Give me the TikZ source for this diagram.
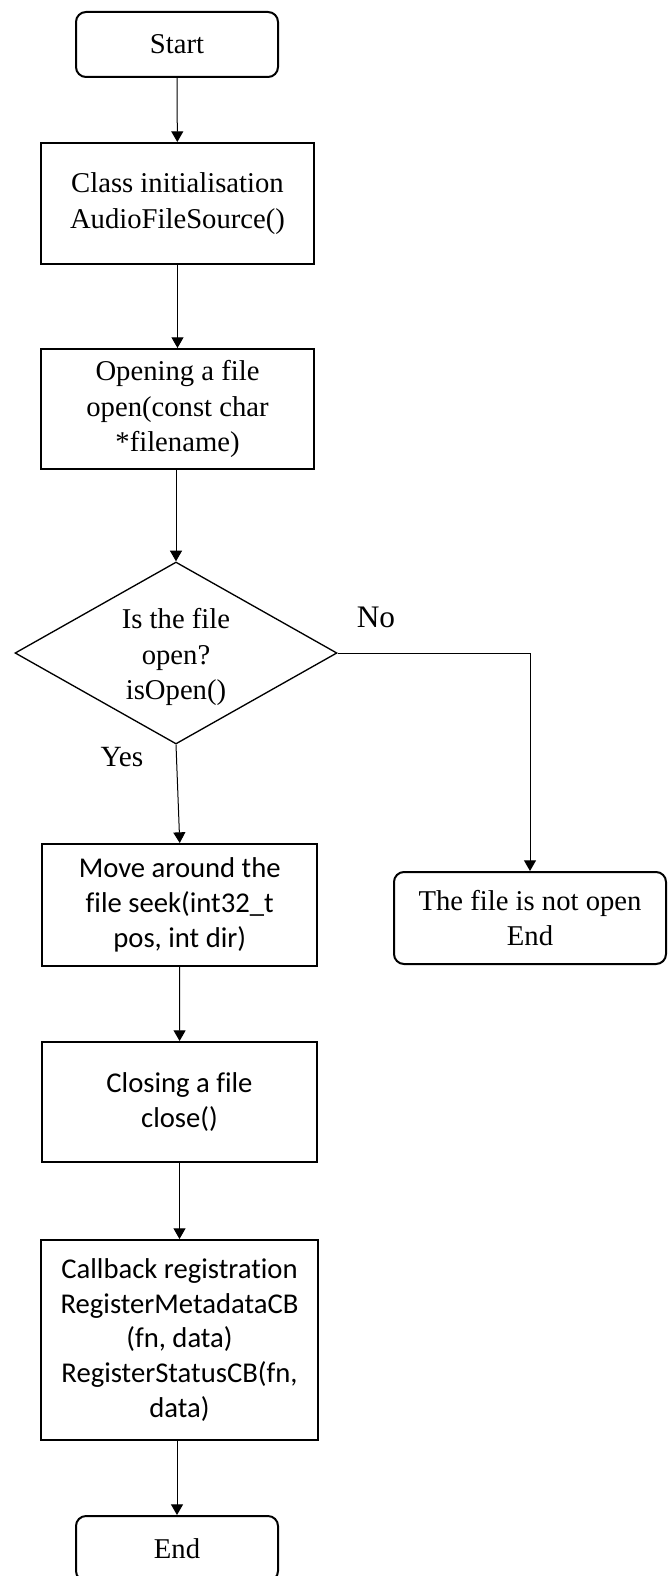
\documentclass[tikz,border=0pt]{standalone}
\usepackage{fontspec}
\setmainfont[Ligatures=NoCommon]{Liberation Serif}
\newfontfamily\calib[Ligatures=NoCommon]{Carlito}
\usetikzlibrary{shapes.geometric,arrows.meta}
\begin{document}
\begin{tikzpicture}[x=0.75pt,y=-0.75pt,
  box/.style={draw, line width=1.5pt, align=center, inner sep=0pt},
  term/.style={box, rounded corners=7.5pt},
  serif/.style={font=\fontsize{21.5}{26.5}\selectfont},
  sans/.style={font=\calib\fontsize{21.5}{26}\selectfont},
  arr/.style={-{Triangle[width=9pt,length=8pt]}, line width=0.75pt},
  lbl/.style={font=\fontsize{22}{26}\selectfont}]
\useasboundingbox (0,0) rectangle (667,1576);

\node[term, serif, minimum width=151.5pt, minimum height=48.75pt] (start) at (177,44.5) {Start};
\node[box, serif, minimum width=204.75pt, minimum height=90.75pt] (cls) at (177.5,203.5) {Class initialisation\\AudioFileSource()};
\node[box, serif, minimum width=204.75pt, minimum height=90pt] (opn) at (177.5,409) {Opening a file\\open(const char\\*filename)};
\node[diamond, draw, line width=1pt, inner sep=0pt, aspect=1.77, minimum width=241.5pt, minimum height=136.5pt] (dec) at (176,653) {};
\node[serif, align=center] (dectext) at (176,657) {Is the file\\open?\\isOpen()};
\node[lbl, font=\fontsize{23.5}{26}\selectfont] (no) at (376,617) {No};
\node[lbl] (yes) at (122,757) {Yes};
\node[box, sans, minimum width=205.9pt, minimum height=91.5pt] (move) at (179.75,905) {Move around the\\file seek(int32\_t\\pos, int dir)};
\node[term, serif, minimum width=204pt, minimum height=69pt] (notopen) at (530,918) {The file is not open\\End};
\node[box, sans, minimum width=206.25pt, minimum height=90pt] (close) at (179.5,1102) {Closing a file\\close()};
\node[box, sans, minimum width=207.75pt, minimum height=150pt] (cb) at (179.5,1340) {Callback registration\\RegisterMetadataCB\\(fn, data)\\RegisterStatusCB(fn,\\data)};
\node[term, serif, minimum width=151.5pt, minimum height=48.75pt] (end) at (177,1548.5) {End};

\draw[arr] (start) -- (cls);
\draw[arr] (cls) -- (opn);
\draw[arr] (opn.south -| dec.north) -- (dec.north);
\draw[arr] (dec.south) -- (move.north);
\draw[arr] (dec.east) -| (notopen.north);
\draw[arr] (move) -- (close);
\draw[arr] (close) -- (cb);
\draw[arr] (cb.south -| end.north) -- (end.north);
\end{tikzpicture}
\end{document}
